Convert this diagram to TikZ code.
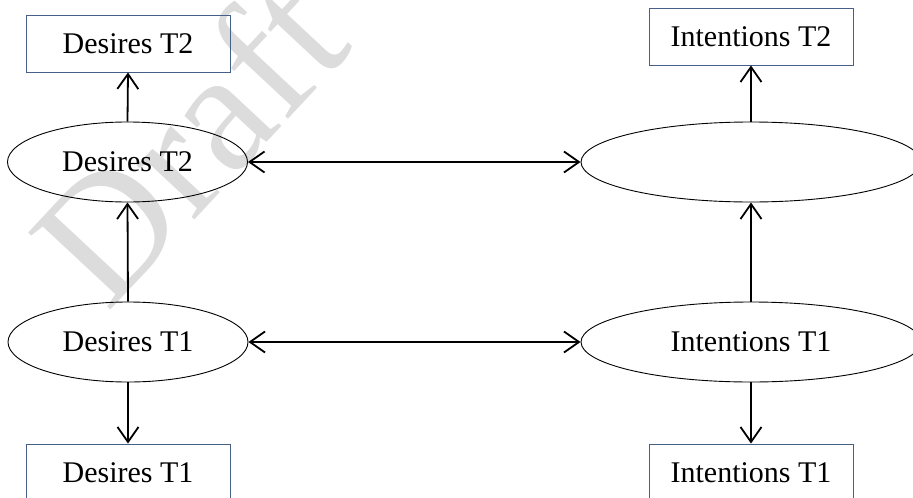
\documentclass[tikz,border=0pt]{standalone}
\usepackage{fontspec}
\setmainfont{Liberation Serif}
\usetikzlibrary{shapes.geometric,arrows.meta}

\definecolor{boxline}{RGB}{70,95,135}
\definecolor{wmark}{RGB}{220,220,220}

\tikzset{
  statebox/.style={draw=boxline, line width=0.9pt, rectangle,
    minimum width=204pt, minimum height=57pt, inner sep=0pt,
    font=\fontsize{30}{33}\selectfont},
  stateoval/.style={draw=black, line width=0.9pt, ellipse,
    minimum height=80pt, inner sep=0pt,
    font=\fontsize{30}{33}\selectfont},
  link/.style={draw=black, line width=1.8pt,
    arrows={-Straight Barb[length=15pt,width=21pt]}},
  duallink/.style={draw=black, line width=1.8pt,
    arrows={Straight Barb[length=15pt,width=21pt]-Straight Barb[length=15pt,width=21pt]}}
}

\begin{document}
\begin{tikzpicture}[x=1pt,y=-1pt]
  \useasboundingbox (0,0) rectangle (913,498);
  \clip (0,0) rectangle (913,498);

  % faint watermark behind everything
  \node[text=wmark, rotate=47, font=\fontsize{172}{172}\selectfont]
    (wm) at (188,140) {Draft};

  % desires column
  \node[statebox] (dbox2) at (128,43.5) {Desires T2};
  \node[stateoval, minimum width=240pt] (d2) at (127.5,162) {Desires T2};
  \node[stateoval, minimum width=240pt] (d1) at (128,342) {Desires T1};
  \node[statebox] (dbox1) at (128,472.5) {Desires T1};

  % intentions column
  \node[statebox] (ibox2) at (751,36.5) {Intentions T2};
  \node[stateoval, minimum width=340pt] (i2) at (751,162) {};
  \node[stateoval, minimum width=340pt] (i1) at (751,342) {Intentions T1};
  \node[statebox] (ibox1) at (751,472.5) {Intentions T1};

  % vertical links
  \draw[link] (d2.north) -- (dbox2.south);
  \draw[link] (d1.north) -- (d2.south);
  \draw[link] (d1.south) -- (dbox1.north);
  \draw[link] (i2.north) -- (ibox2.south);
  \draw[link] (i1.north) -- (i2.south);
  \draw[link] (i1.south) -- (ibox1.north);

  % horizontal two-way links
  \draw[duallink] (d2.east) -- (i2.west);
  \draw[duallink] (d1.east) -- (i1.west);
\end{tikzpicture}
\end{document}
